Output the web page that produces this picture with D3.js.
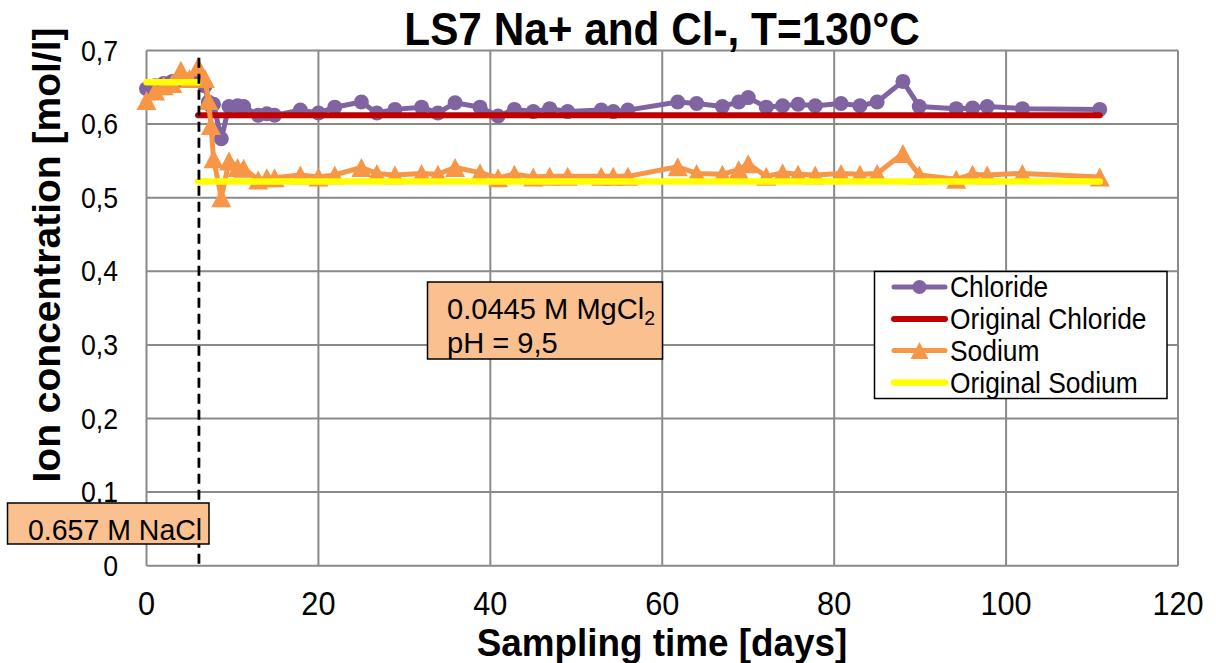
<!DOCTYPE html>
<html>
<head>
<meta charset="utf-8">
<script src="https://cdn.jsdelivr.net/npm/d3@7/dist/d3.min.js"></script>
<style>
  html, body { margin: 0; padding: 0; background: #fff; }
  svg { display: block; font-family: "Liberation Sans", Arial, sans-serif; }
</style>
</head>
<body>
<svg id="chart" width="1216" height="663"></svg>
<script>
// Sampling days shared by both measured series
const days = [0,1,2,3,4,5,6,6.8,7.2,7.5,7.8,8.7,9.6,10.6,11.3,13,14,14.9,17.9,20,21.9,25,26.8,28.9,
  32,33.9,35.9,38.8,40.9,42.8,45,46.9,49,52.9,54.3,56,61.8,64,67,68.9,70,72.1,74,75.8,77.8,80.8,83,85,
  88,89.9,94.2,96.1,97.8,101.9,110.9];

// Measured chloride concentration [mol/l]
const chloride = [0.648,0.652,0.655,0.658,0.660,0.660,0.662,0.652,0.630,0.625,0.627,0.580,0.624,0.625,0.624,
  0.612,0.614,0.612,0.619,0.615,0.623,0.630,0.615,0.620,0.623,0.615,0.629,0.623,0.611,0.620,0.617,0.621,0.617,
  0.619,0.617,0.619,0.630,0.628,0.624,0.630,0.636,0.623,0.625,0.627,0.625,0.628,0.625,0.630,0.658,0.624,
  0.621,0.622,0.624,0.621,0.620];

// Measured sodium concentration [mol/l]
const sodium = [0.632,0.645,0.652,0.655,0.673,0.662,0.678,0.662,0.632,0.598,0.553,0.500,0.550,0.541,0.540,
  0.524,0.527,0.527,0.531,0.528,0.531,0.541,0.533,0.531,0.533,0.532,0.541,0.534,0.527,0.532,0.528,0.529,0.529,
  0.529,0.529,0.529,0.542,0.533,0.532,0.538,0.546,0.529,0.534,0.532,0.531,0.533,0.532,0.533,0.560,0.531,
  0.525,0.532,0.531,0.533,0.528];

// Original brine concentrations (segments: [startDay, endDay, value])
const originalChloride = [[6, 110.9, 0.612]];
const originalSodium = [[0, 6, 0.657], [6, 110.9, 0.522]];

// Day the brine was switched
const switchDay = 6.1;

// Axis ticks
const xTicks = [0, 20, 40, 60, 80, 100, 120];
const yTicks = [0, 0.1, 0.2, 0.3, 0.4, 0.5, 0.6, 0.7];
const yTickLabels = ["0", "0,1", "0,2", "0,3", "0,4", "0,5", "0,6", "0,7"];

const seriesNames = ["Chloride", "Original Chloride", "Sodium", "Original Sodium"];
const colors = { chloride: "#8064A2", origCl: "#C00000", sodium: "#F79646", origNa: "#FFFF00" };

const svg = d3.select("#chart");
const margin = { left: 146.5, right: 1178, top: 50.5, bottom: 565.7 };

const x = d3.scaleLinear().domain([0, 120]).range([margin.left, margin.right]);
const y = d3.scaleLinear().domain([0, 0.7]).range([margin.bottom, margin.top]);

// Text placed with a slight horizontal condensing
function label(parent, str, px, py, size, opts = {}) {
  const t = parent.append("text")
    .attr("transform", `translate(${px},${py})${opts.rotate ? ` rotate(${opts.rotate})` : ""} scale(${opts.sx || 1},1)`)
    .attr("font-size", size)
    .attr("font-weight", opts.bold ? "bold" : "normal")
    .attr("text-anchor", opts.anchor || "start")
    .attr("fill", "#000")
    .text(str);
  return t;
}

// Gridlines and plot border
const grid = svg.append("g").attr("stroke", "#8a8a8a").attr("stroke-width", 2);
grid.selectAll("line.h").data(yTicks).join("line")
  .attr("x1", margin.left).attr("x2", margin.right)
  .attr("y1", d => y(d)).attr("y2", d => y(d));
grid.selectAll("line.v").data(xTicks).join("line")
  .attr("y1", margin.top).attr("y2", margin.bottom)
  .attr("x1", d => x(d)).attr("x2", d => x(d));

// Tick labels
const tickG = svg.append("g");
xTicks.forEach(d => label(tickG, String(d), x(d), 615, 33, { anchor: "middle", sx: 0.93 }));
yTicks.forEach((d, i) => label(tickG, yTickLabels[i], 118, y(d) + 10, 29, { anchor: "end", sx: 0.92 }));

// Chart and axis titles
label(svg, "LS7 Na+ and Cl-, T=130°C", 662, 45, 46, { anchor: "middle", bold: true, sx: 0.92 });
label(svg, "Sampling time [days]", 662, 656, 38, { anchor: "middle", bold: true, sx: 0.97 });
label(svg, "Ion concentration [mol/l]", 60, 255, 39, { anchor: "middle", bold: true, rotate: -90 });

const line = d3.line().x(d => x(d[0])).y(d => y(d[1]));
const triangle = "M0,-9.5L10,9.5L-10,9.5Z";

// Chloride
const clData = days.map((d, i) => [d, chloride[i]]);
svg.append("path").datum(clData).attr("d", line)
  .attr("fill", "none").attr("stroke", colors.chloride).attr("stroke-width", 5).attr("stroke-linejoin", "round");
svg.append("g").selectAll("circle").data(clData).join("circle")
  .attr("cx", d => x(d[0])).attr("cy", d => y(d[1])).attr("r", 7.5).attr("fill", colors.chloride);

// Original chloride
svg.append("g").selectAll("line").data(originalChloride).join("line")
  .attr("x1", d => x(d[0])).attr("x2", d => x(d[1]))
  .attr("y1", d => y(d[2])).attr("y2", d => y(d[2]))
  .attr("stroke", colors.origCl).attr("stroke-width", 6).attr("stroke-linecap", "round");

// Sodium
const naData = days.map((d, i) => [d, sodium[i]]);
svg.append("path").datum(naData).attr("d", line)
  .attr("fill", "none").attr("stroke", colors.sodium).attr("stroke-width", 5).attr("stroke-linejoin", "round");
svg.append("g").selectAll("path").data(naData).join("path")
  .attr("d", triangle).attr("transform", d => `translate(${x(d[0])},${y(d[1])})`)
  .attr("fill", colors.sodium);

// Original sodium
svg.append("g").selectAll("line").data(originalSodium).join("line")
  .attr("x1", d => x(d[0])).attr("x2", d => x(d[1]))
  .attr("y1", d => y(d[2])).attr("y2", d => y(d[2]))
  .attr("stroke", colors.origNa).attr("stroke-width", 6.5).attr("stroke-linecap", "round");

// Brine switch marker
svg.append("line")
  .attr("x1", x(switchDay)).attr("x2", x(switchDay))
  .attr("y1", y(0.69)).attr("y2", y(0))
  .attr("stroke", "#000").attr("stroke-width", 2.8).attr("stroke-dasharray", "10,6");

// Brine annotation boxes
svg.append("rect").attr("x", 7.5).attr("y", 503).attr("width", 201.5).attr("height", 41)
  .attr("fill", "#FAC090").attr("stroke", "#000").attr("stroke-width", 1.5);
label(svg, "0.657 M NaCl", 28, 540, 30, { sx: 0.95 });

svg.append("rect").attr("x", 427.5).attr("y", 282).attr("width", 235).attr("height", 77)
  .attr("fill", "#FAC090").attr("stroke", "#000").attr("stroke-width", 1.5);
const mg = label(svg, "0.0445 M MgCl", 447, 319, 30, { sx: 0.97 });
mg.append("tspan").attr("font-size", 20).attr("dy", 6).text("2");
label(svg, "pH = 9,5", 447, 352.5, 30, { sx: 0.97 });

// Legend
const lg = svg.append("g");
lg.append("rect").attr("x", 874.5).attr("y", 271.5).attr("width", 292.5).attr("height", 127)
  .attr("fill", "#fff").attr("stroke", "#000").attr("stroke-width", 1.5);
const legendRows = [
  { name: seriesNames[0], color: colors.chloride, marker: "circle", w: 5, y: 287 },
  { name: seriesNames[1], color: colors.origCl, marker: null, w: 6, y: 319 },
  { name: seriesNames[2], color: colors.sodium, marker: "triangle", w: 5, y: 350.5 },
  { name: seriesNames[3], color: colors.origNa, marker: null, w: 6.5, y: 382.5 }
];
legendRows.forEach(r => {
  lg.append("line").attr("x1", 894).attr("x2", 945).attr("y1", r.y).attr("y2", r.y)
    .attr("stroke", r.color).attr("stroke-width", r.w).attr("stroke-linecap", "round");
  if (r.marker === "circle") {
    lg.append("circle").attr("cx", 919.5).attr("cy", r.y).attr("r", 7).attr("fill", r.color);
  } else if (r.marker === "triangle") {
    lg.append("path").attr("d", "M0,-8.5L9,8.5L-9,8.5Z").attr("transform", `translate(919.5,${r.y})`).attr("fill", r.color);
  }
  label(lg, r.name, 950, r.y + 10, 29, { sx: 0.91 });
});
</script>
</body>
</html>
